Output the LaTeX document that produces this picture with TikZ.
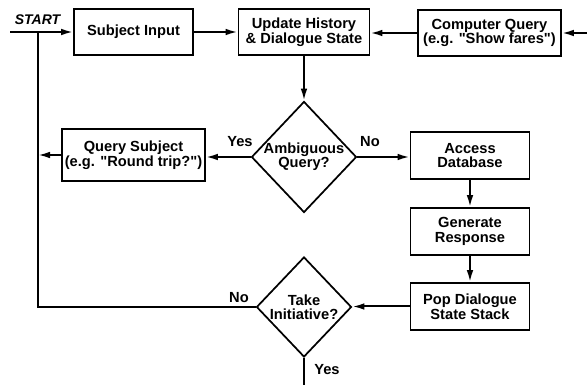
\documentclass[tikz,border=0pt]{standalone}
\usepackage{fontspec}
\setmainfont{Liberation Sans}
\usetikzlibrary{shapes.geometric,arrows.meta}
\newcommand{\dq}{\textquotedbl}
\newcommand{\zw}[1]{\makebox[0pt]{#1}}
\begin{document}
\begin{tikzpicture}[x=0.75pt,y=-0.75pt,
  every node/.style={font=\fontsize{11}{11}\selectfont\bfseries},
  flowbox/.style={draw,line width=1.3pt,align=center,inner sep=1pt},
  decision/.style={draw,diamond,line width=1.3pt,inner sep=0pt,align=center,
    font=\fontsize{11}{10.5}\selectfont\bfseries},
  flowline/.style={line width=1.5pt},
  flowarrow/.style={line width=1.5pt,-{Latex[length=9pt,width=5pt]}},
  lbl/.style={inner sep=0pt}]
\useasboundingbox (0,0) rectangle (587,385);

% boxes along the top row
\node[flowbox,minimum width=89.25pt,minimum height=34.5pt] (subj) at (133.5,32) {Subject Input};
\node[flowbox,minimum width=98.25pt,minimum height=34.5pt] (upd) at (304,32) {Update History\\\& Dialogue State};
\node[flowbox,minimum width=107.25pt,minimum height=34.5pt] (cq) at (489.5,33) {Computer Query\\(e.g. \dq Show fares\dq)};

% first decision and its branches
\node[decision,minimum width=78.75pt,minimum height=83.25pt] (amb) at (304,157) {\zw{Ambiguous}\\\zw{Query?}};
\node[flowbox,minimum width=107.25pt,minimum height=39pt] (qs) at (133.5,155) {Query Subject\\(e.g. \dq Round trip?\dq)};
\node[flowbox,minimum width=89.25pt,minimum height=35.25pt] (adb) at (470,155.5) {Access\\Database};
\node[flowbox,minimum width=89.25pt,minimum height=35.25pt] (gen) at (470,231.5) {Generate\\Response};
\node[flowbox,minimum width=89.25pt,minimum height=35.25pt] (pop) at (470,306.5) {Pop Dialogue\\State Stack};

% second decision
\node[decision,minimum width=71.25pt,minimum height=75pt] (take) at (304,307) {\zw{Take}\\\zw{Initiative?}};

% free ends of the connectors
\coordinate (startpt) at (10,32);
\coordinate (loop) at (38,32);
\coordinate (loopqs) at (38,155);
\coordinate (corner) at (38,307);
\coordinate (rightin) at (587,33);
\coordinate (exitpt) at (304,385);

% texts beside the connectors
\node[lbl,font=\fontsize{10.5}{11}\selectfont\bfseries\itshape] (start) at (37.5,20) {START};
\node[lbl] (yes1) at (240,142) {Yes};
\node[lbl] (no1) at (370,142) {No};
\node[lbl] (no2) at (239,298) {No};
\node[lbl] (yes2) at (327,370) {Yes};

% connectors
\draw[flowarrow] (startpt) -- (subj.west);
\draw[flowarrow] (subj.east) -- (upd.west);
\draw[flowarrow] (cq.west) -- (upd.east |- cq.west);
\draw[flowarrow] (rightin) -- (cq.east);
\draw[flowarrow] (upd.south) -- (amb.north);
\draw[flowarrow] (amb.west) -- (qs.east |- amb.west);
\draw[flowarrow] (qs.west) -- (loopqs);
\draw[flowarrow] (amb.east) -- (adb.west |- amb.east);
\draw[flowarrow] (adb.south) -- (gen.north);
\draw[flowarrow] (gen.south) -- (pop.north);
\draw[flowarrow] (pop.west) -- (take.east |- pop.west);
\draw[flowline] (take.west) -- (corner) -- (loop);
\draw[flowline] (take.south) -- (exitpt);
\end{tikzpicture}
\end{document}
